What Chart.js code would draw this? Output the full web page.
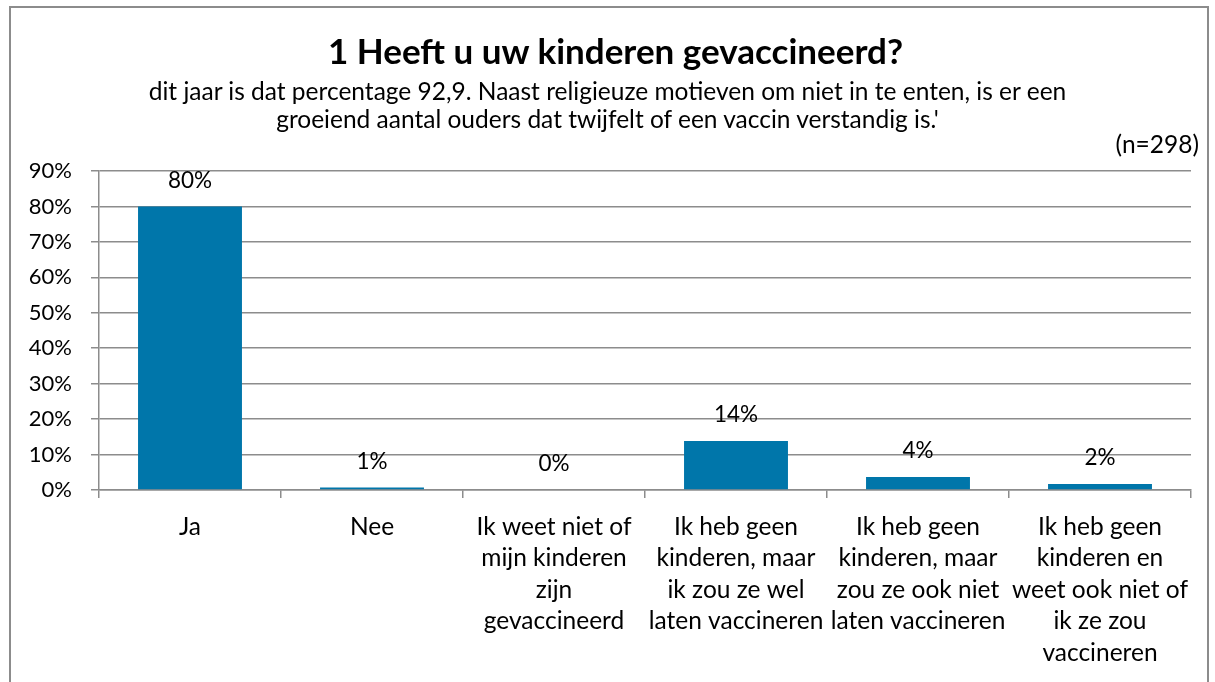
<!DOCTYPE html>
<html>
<head>
<meta charset="utf-8">
<script src="https://cdn.jsdelivr.net/npm/chart.js@4.4.0/dist/chart.umd.min.js"></script>
<style>
    body { margin: 0; background: #fff; font-family: Lato, 'Open Sans', sans-serif; color: #000; }
    #wrap { position: relative; width: 1215px; height: 682px; overflow: hidden; }
    #frame { position: absolute; left: 9px; top: 6px; width: 1196px; height: 700px; border: 2px solid #8c8c8c; pointer-events: none; }
    canvas { position: absolute; left: 0; top: 0; }
    .txt { position: absolute; left: 0; width: 1215px; text-align: center; white-space: nowrap; }
    #title { top: 30px; left: 8px; font-size: 35px; line-height: 40px; font-weight: bold; }
    #subtitle { top: 77px; font-size: 24.5px; line-height: 28px; }
    #count { position: absolute; right: 16px; top: 130px; font-size: 24.5px; line-height: 28px; }
</style>
</head>
<body>
<div id="wrap">
    <canvas id="surveyChart" width="1215" height="682"></canvas>
    <div id="title" class="txt">1 Heeft u uw kinderen gevaccineerd?</div>
    <div id="subtitle" class="txt">dit jaar is dat percentage 92,9. Naast religieuze motieven om niet in te enten, is er een<br>groeiend aantal ouders dat twijfelt of een vaccin verstandig is.'</div>
    <div id="count">(n=298)</div>
    <div id="frame"></div>
</div>
<script>
const categories = [
    ['Ja'],
    ['Nee'],
    ['Ik weet niet of', 'mijn kinderen', 'zijn', 'gevaccineerd'],
    ['Ik heb geen', 'kinderen, maar', 'ik zou ze wel', 'laten vaccineren'],
    ['Ik heb geen', 'kinderen, maar', 'zou ze ook niet', 'laten vaccineren'],
    ['Ik heb geen', 'kinderen en', 'weet ook niet of', 'ik ze zou', 'vaccineren']
];
const percentages = [80, 0.7, 0, 13.8, 3.7, 1.7];
const yTicks = [0, 10, 20, 30, 40, 50, 60, 70, 80, 90];

const fontFamily = "Lato, 'Open Sans', sans-serif";
const gridColor = '#8c8c8c';

// value labels above each bar
const valueLabels = {
    id: 'valueLabels',
    afterDatasetsDraw(chart) {
        const ctx = chart.ctx;
        const meta = chart.getDatasetMeta(0);
        ctx.save();
        ctx.font = '22.5px ' + fontFamily;
        ctx.fillStyle = '#000';
        ctx.textAlign = 'center';
        ctx.textBaseline = 'middle';
        meta.data.forEach((bar, i) => {
            ctx.fillText(Math.round(percentages[i]) + '%', bar.x, bar.y - 26);
        });
        ctx.restore();
    }
};

const ctx = document.getElementById('surveyChart').getContext('2d');
new Chart(ctx, {
    type: 'bar',
    data: {
        labels: categories,
        datasets: [{
            data: percentages,
            backgroundColor: '#0076aa',
            borderWidth: 0,
            barPercentage: 0.571,
            categoryPercentage: 1
        }]
    },
    options: {
        responsive: false,
        animation: false,
        layout: { padding: { left: 0, right: 24, top: 171, bottom: 0 } },
        plugins: {
            legend: { display: false },
            tooltip: { enabled: false }
        },
        scales: {
            y: {
                min: 0,
                max: 90,
                afterBuildTicks: scale => { scale.ticks = yTicks.map(v => ({ value: v })); },
                afterFit: scale => { scale.width = 99; },
                border: { color: gridColor, width: 1.5 },
                grid: { color: gridColor, lineWidth: 1.5, tickLength: 8 },
                ticks: {
                    padding: 19,
                    color: '#000',
                    font: { family: fontFamily, size: 22 },
                    callback: v => v + '%'
                }
            },
            x: {
                afterFit: scale => { scale.height = 192; },
                border: { color: gridColor, width: 1.5 },
                grid: { color: gridColor, lineWidth: 1.5, tickLength: 8, drawOnChartArea: false, offset: true },
                ticks: {
                    padding: 13,
                    maxRotation: 0,
                    autoSkip: false,
                    color: '#000',
                    font: { family: fontFamily, size: 24.5, lineHeight: 1.286 }
                }
            }
        }
    },
    plugins: [valueLabels]
});
</script>
</body>
</html>
